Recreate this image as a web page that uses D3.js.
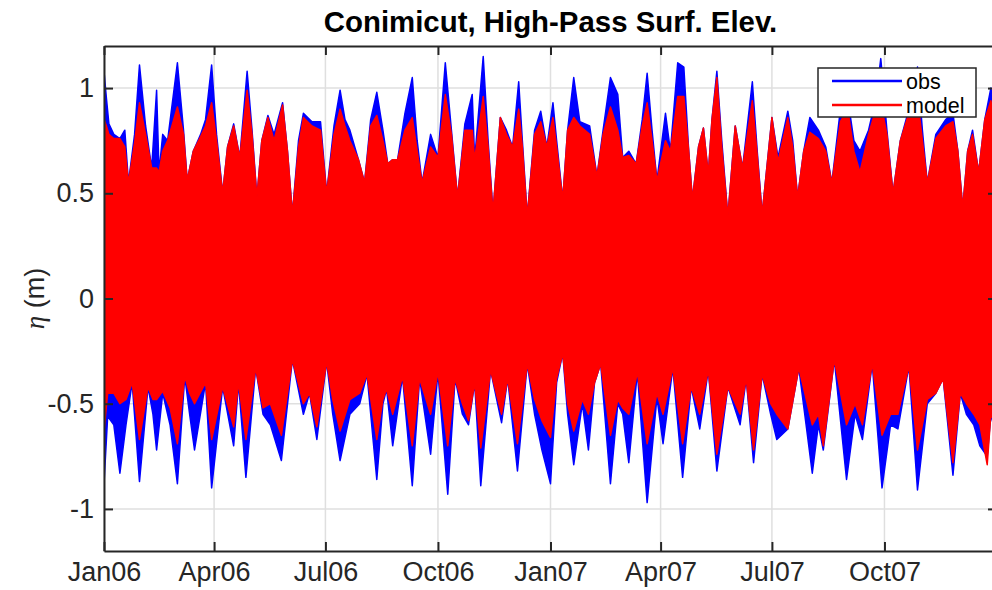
<!DOCTYPE html>
<html>
<head>
<meta charset="utf-8">
<script src="https://cdn.jsdelivr.net/npm/d3@7"></script>
<style>
  html, body { margin: 0; padding: 0; background: #fff; }
  svg { display: block; font-family: "Liberation Sans", Arial, Helvetica, sans-serif; }
</style>
</head>
<body>
<svg id="chart" width="992" height="590"></svg>
<script>
// Conimicut high-pass surface elevation, 2006-2007.
// Envelope of the tidal signal: days since 2006-01-01 and the high / low water extremes (m).
const upperDay = [0,2,4,8,13,17,20,25,29,34,39,43,45,48,52,60,65,68,73,79,83,88,92,97,101,106,111,117,121,125,129,134,139,146,150,154,159,163,170,177,182,188,193,197,201,208,213,218,223,228,232,236,240,246,252,256,260,267,273,279,284,289,295,301,303,310,314,318,324,329,334,339,342,346,352,357,362,367,370,375,379,384,389,397,403,408,414,420,424,429,435,440,444,448,452,459,463,469,474,478,481,486,490,494,497,501,505,510,516,522,530,534,538,546,551,559,563,567,572,577,584,590,595,602,608,613,618,625,631,635,640,645,651,658,665,669,673,680,688,694,698,702,706,710,715,720,725,729];
const obsUpper = [1.08,0.95,0.83,0.78,0.76,0.80,0.55,0.78,1.11,0.82,0.62,0.99,0.60,0.78,0.75,1.12,0.80,0.56,0.70,0.78,0.85,1.11,0.78,0.50,0.72,0.83,0.67,1.08,0.80,0.48,0.75,0.87,0.78,0.93,0.70,0.40,0.75,0.88,0.84,0.84,0.50,0.82,0.99,0.85,0.80,0.66,0.55,0.85,0.98,0.80,0.64,0.66,0.66,0.88,1.05,0.75,0.55,0.78,0.67,1.12,0.80,0.48,0.83,0.97,0.66,1.15,0.75,0.41,0.86,0.80,0.72,1.03,0.75,0.39,0.80,0.89,0.72,0.93,0.75,0.47,0.80,1.05,0.84,0.82,0.58,0.80,1.05,0.97,0.67,0.70,0.64,0.85,1.07,0.80,0.56,0.88,0.70,1.12,1.10,0.70,0.47,0.72,0.81,0.59,0.85,1.08,0.75,0.39,0.82,0.62,1.03,0.70,0.40,0.86,0.67,0.89,0.75,0.48,0.70,0.86,0.80,0.72,0.55,0.90,0.95,0.75,0.70,0.80,0.95,1.14,0.80,0.50,0.75,0.90,1.10,0.80,0.55,0.78,0.85,0.88,0.70,0.43,0.70,0.80,0.60,0.85,1.00,0.85];
const modelUpper = [0.85,0.82,0.78,0.76,0.76,0.72,0.55,0.74,0.93,0.78,0.62,0.62,0.60,0.70,0.75,0.91,0.78,0.56,0.70,0.77,0.82,0.93,0.75,0.50,0.72,0.82,0.67,0.99,0.78,0.48,0.75,0.86,0.75,0.92,0.70,0.40,0.72,0.86,0.82,0.80,0.50,0.78,0.90,0.82,0.75,0.66,0.55,0.82,0.87,0.75,0.64,0.66,0.66,0.80,0.86,0.70,0.55,0.72,0.67,0.97,0.78,0.48,0.80,0.80,0.66,0.96,0.72,0.41,0.86,0.78,0.72,0.90,0.72,0.39,0.78,0.84,0.72,0.86,0.72,0.47,0.80,0.86,0.82,0.78,0.58,0.78,0.91,0.80,0.67,0.68,0.64,0.82,0.93,0.75,0.56,0.75,0.70,0.96,0.96,0.70,0.47,0.72,0.81,0.59,0.85,1.05,0.72,0.39,0.82,0.62,0.94,0.68,0.40,0.86,0.65,0.86,0.72,0.48,0.70,0.79,0.76,0.70,0.55,0.84,0.90,0.70,0.60,0.78,0.90,0.93,0.78,0.50,0.75,0.88,0.95,0.75,0.55,0.76,0.82,0.84,0.70,0.43,0.70,0.78,0.60,0.85,0.94,0.80];

const lowerDay = [0,3,8,13,18,23,29,36,40,43,48,54,60,66,70,74,83,88,97,106,110,116,124,130,136,145,154,163,168,174,182,187,193,201,209,215,223,228,231,236,244,252,258,267,273,281,287,293,298,303,308,316,325,330,338,346,352,358,365,370,375,379,384,391,396,401,406,414,420,424,429,436,444,452,457,465,473,480,487,494,501,510,520,525,531,538,545,550,559,568,579,584,588,597,607,614,620,628,636,643,649,658,665,673,680,686,694,700,705,711,716,722,725,729];
const obsLower = [-0.88,-0.56,-0.60,-0.83,-0.60,-0.40,-0.87,-0.42,-0.55,-0.72,-0.45,-0.60,-0.88,-0.37,-0.55,-0.72,-0.40,-0.90,-0.42,-0.70,-0.40,-0.85,-0.33,-0.55,-0.60,-0.77,-0.29,-0.55,-0.45,-0.67,-0.30,-0.55,-0.77,-0.55,-0.50,-0.36,-0.86,-0.50,-0.43,-0.70,-0.37,-0.89,-0.38,-0.74,-0.35,-0.93,-0.38,-0.55,-0.60,-0.40,-0.89,-0.34,-0.59,-0.38,-0.82,-0.31,-0.55,-0.72,-0.88,-0.40,-0.26,-0.55,-0.79,-0.50,-0.72,-0.40,-0.31,-0.88,-0.50,-0.55,-0.78,-0.35,-0.97,-0.47,-0.69,-0.33,-0.85,-0.42,-0.62,-0.34,-0.82,-0.42,-0.60,-0.38,-0.78,-0.36,-0.55,-0.67,-0.62,-0.33,-0.83,-0.60,-0.72,-0.29,-0.86,-0.55,-0.67,-0.31,-0.90,-0.60,-0.62,-0.32,-0.91,-0.50,-0.45,-0.38,-0.84,-0.45,-0.55,-0.60,-0.70,-0.75,-0.55,-0.65];
const modelLower = [-0.63,-0.45,-0.45,-0.50,-0.48,-0.40,-0.67,-0.42,-0.48,-0.48,-0.44,-0.52,-0.69,-0.37,-0.45,-0.50,-0.40,-0.67,-0.42,-0.61,-0.40,-0.67,-0.33,-0.52,-0.50,-0.65,-0.29,-0.50,-0.45,-0.61,-0.30,-0.48,-0.63,-0.48,-0.45,-0.36,-0.67,-0.48,-0.43,-0.55,-0.37,-0.70,-0.38,-0.55,-0.35,-0.70,-0.38,-0.50,-0.58,-0.40,-0.71,-0.34,-0.55,-0.38,-0.69,-0.31,-0.48,-0.58,-0.66,-0.38,-0.26,-0.50,-0.63,-0.48,-0.55,-0.40,-0.31,-0.65,-0.48,-0.52,-0.55,-0.35,-0.69,-0.45,-0.55,-0.33,-0.69,-0.42,-0.55,-0.34,-0.74,-0.42,-0.55,-0.38,-0.72,-0.36,-0.50,-0.55,-0.62,-0.33,-0.60,-0.55,-0.70,-0.29,-0.60,-0.50,-0.60,-0.31,-0.65,-0.55,-0.55,-0.32,-0.72,-0.48,-0.45,-0.38,-0.78,-0.45,-0.50,-0.55,-0.60,-0.79,-0.55,-0.60];

const tickMonths = ["2006-01-01","2006-04-01","2006-07-01","2006-10-01","2007-01-01","2007-04-01","2007-07-01","2007-10-01"];
const tickLabels = ["Jan06","Apr06","Jul06","Oct06","Jan07","Apr07","Jul07","Oct07"];
const yTicks = [-1, -0.5, 0, 0.5, 1];
const yTickLabels = ["-1", "-0.5", "0", "0.5", "1"];
const seriesNames = ["obs", "model"];
const seriesColors = ["#0000ff", "#ff0000"];

const svg = d3.select("#chart");
const W = 992, H = 590;
const m = { left: 104, right: 997, top: 46, bottom: 551 };
const axisColor = "#262626";
const gridColor = "#dfdfdf";
const fontSize = 27;

svg.append("rect").attr("width", W).attr("height", H).attr("fill", "#fff");

const t0 = new Date(Date.UTC(2006, 0, 1));
const t1 = new Date(Date.UTC(2008, 0, 1));
const x = d3.scaleUtc().domain([t0, t1]).range([m.left, m.right]);
const y = d3.scaleLinear().domain([-1.2, 1.2]).range([m.bottom, m.top]);
const dayDate = d => d3.utcDay.offset(t0, d);
const tickDates = tickMonths.map(s => new Date(s + "T00:00:00Z"));

// grid
const grid = svg.append("g");
grid.selectAll("line.gx").data(tickDates).join("line")
  .attr("x1", d => x(d)).attr("x2", d => x(d))
  .attr("y1", m.top).attr("y2", m.bottom)
  .attr("stroke", gridColor).attr("stroke-width", 1.5);
grid.selectAll("line.gy").data(yTicks).join("line")
  .attr("x1", m.left).attr("x2", m.right)
  .attr("y1", d => y(d)).attr("y2", d => y(d))
  .attr("stroke", gridColor).attr("stroke-width", 1.5);

// data
svg.append("clipPath").attr("id", "plotclip").append("rect")
  .attr("x", m.left).attr("y", m.top).attr("width", m.right - m.left).attr("height", m.bottom - m.top);
const plot = svg.append("g").attr("clip-path", "url(#plotclip)");

const upperArea = vals => d3.area()
  .x((d, i) => x(dayDate(upperDay[i])))
  .y0(y(0)).y1((d, i) => y(vals[i]))(upperDay);
const lowerArea = vals => d3.area()
  .x((d, i) => x(dayDate(lowerDay[i])))
  .y0(y(0)).y1((d, i) => y(vals[i]))(lowerDay);

const layers = [
  [obsUpper, obsLower, seriesColors[0]],
  [modelUpper, modelLower, seriesColors[1]]
];
layers.forEach(([hi, lo, c]) => {
  plot.append("path").attr("d", upperArea(hi)).attr("fill", c)
    .attr("stroke", c).attr("stroke-width", 1.5).attr("stroke-linejoin", "round");
  plot.append("path").attr("d", lowerArea(lo)).attr("fill", c)
    .attr("stroke", c).attr("stroke-width", 1.5).attr("stroke-linejoin", "round");
});

// axes
function styleAxis(g) {
  g.select(".domain").attr("stroke", axisColor).attr("stroke-width", 2);
  g.selectAll(".tick line").attr("stroke", axisColor).attr("stroke-width", 2);
  g.selectAll(".tick text").attr("fill", axisColor).attr("font-size", fontSize)
    .attr("font-family", "'Liberation Sans', Arial, Helvetica, sans-serif");
}
svg.append("g").attr("transform", `translate(0,${m.bottom})`)
  .call(d3.axisBottom(x).tickValues(tickDates).tickFormat((d, i) => tickLabels[i])
    .tickSizeInner(-9).tickSizeOuter(0).tickPadding(11))
  .call(styleAxis);
svg.append("g").attr("transform", `translate(0,${m.top})`)
  .call(d3.axisTop(x).tickValues(tickDates).tickFormat("").tickSizeInner(-9).tickSizeOuter(0))
  .call(styleAxis);
svg.append("g").attr("transform", `translate(${m.left},0)`)
  .call(d3.axisLeft(y).tickValues(yTicks).tickFormat((d, i) => yTickLabels[i])
    .tickSizeInner(-9).tickSizeOuter(0).tickPadding(10))
  .call(styleAxis);
svg.append("g").attr("transform", `translate(${m.right},0)`)
  .call(d3.axisRight(y).tickValues(yTicks).tickFormat("").tickSizeInner(-9).tickSizeOuter(0))
  .call(styleAxis);

// title
svg.append("text").attr("x", (m.left + m.right) / 2).attr("y", 32)
  .attr("text-anchor", "middle").attr("font-weight", "bold").attr("font-size", 29.4)
  .attr("fill", "#000").text("Conimicut, High-Pass Surf. Elev.");

// y label
const yl = svg.append("text")
  .attr("transform", `translate(44,${(m.top + m.bottom) / 2}) rotate(-90)`)
  .attr("text-anchor", "middle").attr("font-size", fontSize).attr("fill", axisColor);
yl.append("tspan").attr("font-style", "italic")
  .attr("font-family", "'Liberation Serif', 'DejaVu Serif', serif").text("η");
yl.append("tspan").text(" (m)");

// legend
const lg = svg.append("g");
lg.append("rect").attr("x", 818).attr("y", 68).attr("width", 158).attr("height", 49)
  .attr("fill", "#fff").attr("stroke", axisColor).attr("stroke-width", 1.5);
seriesNames.forEach((name, i) => {
  const ly = 81 + i * 24;
  lg.append("line").attr("x1", 832).attr("x2", 902).attr("y1", ly).attr("y2", ly)
    .attr("stroke", seriesColors[i]).attr("stroke-width", 2.5);
  lg.append("text").attr("x", 906).attr("y", ly).attr("dy", "0.35em")
    .attr("font-size", 21.5).attr("fill", "#000").text(name);
});
</script>
</body>
</html>
